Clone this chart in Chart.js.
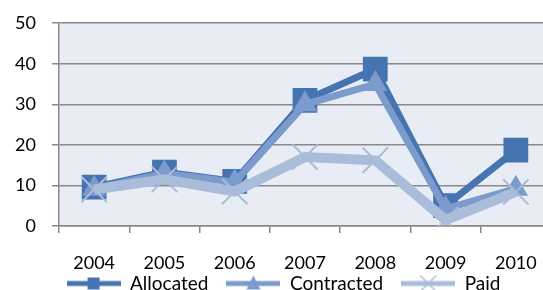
<!DOCTYPE html>
<html>
<head>
<meta charset="utf-8">
<script src="https://cdn.jsdelivr.net/npm/chart.js@4/dist/chart.umd.min.js"></script>
<style>
    html, body { margin: 0; padding: 0; background: #fff; overflow: hidden; }
    #wrap { position: absolute; left: 0; top: 0; width: 571px; height: 323px; }
</style>
</head>
<body>
<div id="wrap"><canvas id="myChart" width="571" height="323"></canvas></div>
<script>
// data
const years = ['2004', '2005', '2006', '2007', '2008', '2009', '2010'];
const allocated = [9.6, 13.3, 11, 31, 38.7, 5, 18.7];
const contracted = [9.2, 13, 10.8, 30, 35, 4.2, 9.2];
const paid = [9, 11.5, 8.5, 17, 16.2, 1.5, 8.4];
const yTicks = [0, 10, 20, 30, 40, 50];

const FONT = 'Lato, "Open Sans", sans-serif';
const colAlloc = '#4674B1';
const colContr = '#7B9BCC';
const colPaid = '#A9BDDA';

// legend sembolleri: cizgi + marker
function legendIcon(color, kind) {
    const c = document.createElement('canvas');
    c.width = 54; c.height = 18;
    const g = c.getContext('2d');
    g.strokeStyle = color;
    g.lineWidth = 5;
    g.beginPath(); g.moveTo(0, 9); g.lineTo(54, 9); g.stroke();
    g.fillStyle = color;
    if (kind === 'rect') {
        g.fillRect(21, 3, 12, 12);
    } else if (kind === 'tri') {
        g.beginPath(); g.moveTo(27, 1); g.lineTo(34, 15); g.lineTo(20, 15); g.closePath(); g.fill();
    } else {
        g.lineWidth = 1.5;
        g.beginPath();
        g.moveTo(19, 1); g.lineTo(35, 17);
        g.moveTo(35, 1); g.lineTo(19, 17);
        g.stroke();
    }
    return c;
}

// plot alani arka plani + legend'i x etiketlerine yaklastir
const plotBg = {
    id: 'plotBg',
    afterLayout(chart) {
        const lg = chart.legend;
        lg.top -= 20;
        lg.bottom -= 20;
    },
    beforeDraw(chart) {
        const a = chart.chartArea;
        const ctx = chart.ctx;
        ctx.save();
        ctx.fillStyle = '#E7ECF5';
        ctx.fillRect(a.left, a.top, a.right - a.left, a.bottom - a.top);
        ctx.restore();
    }
};

// paid en ustte cizilsin diye sira ters, legend reverse
new Chart(document.getElementById('myChart'), {
    type: 'line',
    data: {
        labels: years,
        datasets: [
            {
                label: 'Paid', data: paid,
                borderColor: colPaid, backgroundColor: colPaid,
                borderWidth: 10, pointStyle: 'crossRot', pointRadius: 18,
                pointBorderWidth: 2, pointBorderColor: colPaid,
                legendIcon: legendIcon(colPaid, 'x')
            },
            {
                label: 'Contracted', data: contracted,
                borderColor: colContr, backgroundColor: colContr,
                borderWidth: 7, pointStyle: 'triangle', pointRadius: 14,
                pointBorderWidth: 0,
                legendIcon: legendIcon(colContr, 'tri')
            },
            {
                label: 'Allocated', data: allocated,
                borderColor: colAlloc, backgroundColor: colAlloc,
                borderWidth: 7, pointStyle: 'rect', pointRadius: 17.5,
                pointBorderWidth: 0,
                legendIcon: legendIcon(colAlloc, 'rect')
            }
        ]
    },
    options: {
        responsive: false,
        animation: false,
        events: [],
        layout: { padding: { left: 0, top: 23, right: 4, bottom: 0 } },
        elements: { line: { tension: 0, borderJoinStyle: 'miter' } },
        plugins: {
            tooltip: { enabled: false },
            legend: {
                position: 'bottom',
                reverse: true,
                labels: {
                    usePointStyle: true,
                    pointStyleWidth: 54,
                    padding: 18,
                    color: '#000',
                    font: { family: FONT, size: 19 },
                    generateLabels(chart) {
                        return chart.data.datasets.map((ds, i) => ({
                            text: ds.label,
                            pointStyle: ds.legendIcon,
                            fillStyle: ds.borderColor,
                            strokeStyle: ds.borderColor,
                            lineWidth: 0,
                            fontColor: '#000',
                            datasetIndex: i,
                            hidden: false
                        }));
                    }
                }
            }
        },
        scales: {
            x: {
                offset: true,
                afterFit(s) { s.height = 50; },
                grid: { offset: true, drawOnChartArea: false, color: '#888', lineWidth: 1.5, tickLength: 7 },
                border: { color: '#888', width: 1.5 },
                ticks: { color: '#000', padding: 19, font: { family: FONT, size: 18 }, maxRotation: 0, autoSkip: false }
            },
            y: {
                min: 0, max: 50,
                afterFit(s) { s.width = 59; },
                afterBuildTicks(s) { s.ticks = yTicks.map(v => ({ value: v })); },
                grid: { color: '#888', lineWidth: 1.5, tickLength: 7 },
                border: { color: '#888', width: 1.5 },
                ticks: { color: '#000', padding: 16, font: { family: FONT, size: 18, lineHeight: 0.8 } }
            }
        }
    },
    plugins: [plotBg]
});
</script>
</body>
</html>
